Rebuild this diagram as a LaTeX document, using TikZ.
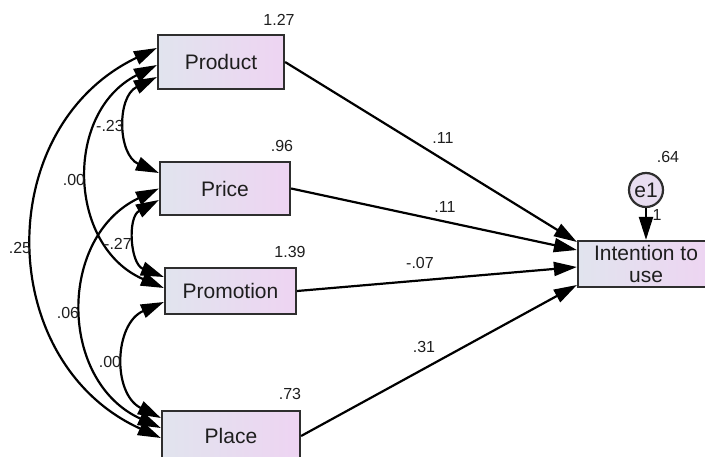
\documentclass[tikz,border=0pt]{standalone}
\usepackage{fontspec}
\setmainfont{Liberation Sans}
\usetikzlibrary{arrows.meta}

\definecolor{boxleft}{HTML}{E1E4EE}
\definecolor{boxright}{HTML}{EED4F2}
\definecolor{edgegray}{HTML}{2E2E2E}
\definecolor{inkgray}{HTML}{1E1E1E}
\definecolor{errfill}{HTML}{E8DDF0}

\tikzset{
  var/.style={draw=edgegray, line width=2.2pt, left color=boxleft, right color=boxright,
    inner sep=0pt, text=inkgray, font=\fontsize{21}{22}\selectfont},
  errc/.style={circle, draw=edgegray, line width=2.2pt, fill=errfill, inner sep=0pt,
    minimum size=34pt, text=inkgray, font=\fontsize{21}{22}\selectfont},
  coef/.style={text=inkgray, inner sep=0pt, font=\fontsize{16}{18}\selectfont},
  tipshape/.tip={Triangle[length=23pt,width=14pt]},
  path/.style={draw=black, line width=2.2pt, -tipshape},
  cov/.style={draw=black, line width=2.2pt, tipshape-tipshape, bend right=65, looseness=1.2}
}

\begin{document}
\begin{tikzpicture}[x=1pt,y=1pt]
\clip (0,0) rectangle (705,-457);
\fill[white] (0,0) rectangle (705,-457);

% observed variables
\node[var, minimum width=126pt, minimum height=54pt] (prod) at (221,-62) {Product};
\node[var, minimum width=130pt, minimum height=53pt] (price) at (225,-188.5) {Price};
\node[var, minimum width=131pt, minimum height=46pt] (promo) at (230.5,-291) {Promotion};
\node[var, minimum width=138pt, minimum height=50pt] (place) at (231,-436) {Place};
\node[var, minimum width=136pt, minimum height=46pt, align=center] (intent) at (646,-264) {Intention to\\use};
\node[errc] (e1) at (646,-190) {e1};

% regression paths
\draw[path] (prod.east) -- ([yshift=22pt]intent.west);
\draw[path] (price.east) -- ([yshift=14pt]intent.west);
\draw[path] (promo.east) -- ([yshift=-3pt]intent.west);
\draw[path] (place.east) -- ([yshift=-21pt]intent.west);
\draw[path] (e1.south) -- (intent.north);

% covariances
\draw[cov] ([yshift=-15pt]prod.west) to ([yshift=15.5pt]price.west);
\draw[cov] ([yshift=-3pt]prod.west) to ([yshift=3pt]promo.west);
\draw[cov] ([yshift=14pt]prod.west) to ([yshift=-2pt]place.west);
\draw[cov] ([yshift=-11.5pt]price.west) to ([yshift=14pt]promo.west);
\draw[cov] (price.west) to ([yshift=8pt]place.west);
\draw[cov] ([yshift=-11pt]promo.west) to ([yshift=18pt]place.west);

% variances
\node[coef] (vprod) at (279,-20) {1.27};
\node[coef] (vprice) at (282,-146) {.96};
\node[coef] (vpromo) at (290,-252) {1.39};
\node[coef] (vplace) at (290,-394) {.73};
\node[coef] (ve1) at (668,-157) {.64};
\node[coef] (fix1) at (657,-215) {1};

% path coefficients
\node[coef] (bprod) at (443,-138) {.11};
\node[coef] (bprice) at (445,-207) {.11};
\node[coef] (bpromo) at (420,-263) {-.07};
\node[coef] (bplace) at (424,-347) {.31};

% covariance values
\node[coef] (c12) at (110,-126) {-.23};
\node[coef] (c13) at (74,-180) {.00};
\node[coef] (c14) at (20,-248) {.25};
\node[coef] (c23) at (118,-244) {-.27};
\node[coef] (c24) at (68,-313) {.06};
\node[coef] (c34) at (110,-362) {.00};
\end{tikzpicture}
\end{document}
